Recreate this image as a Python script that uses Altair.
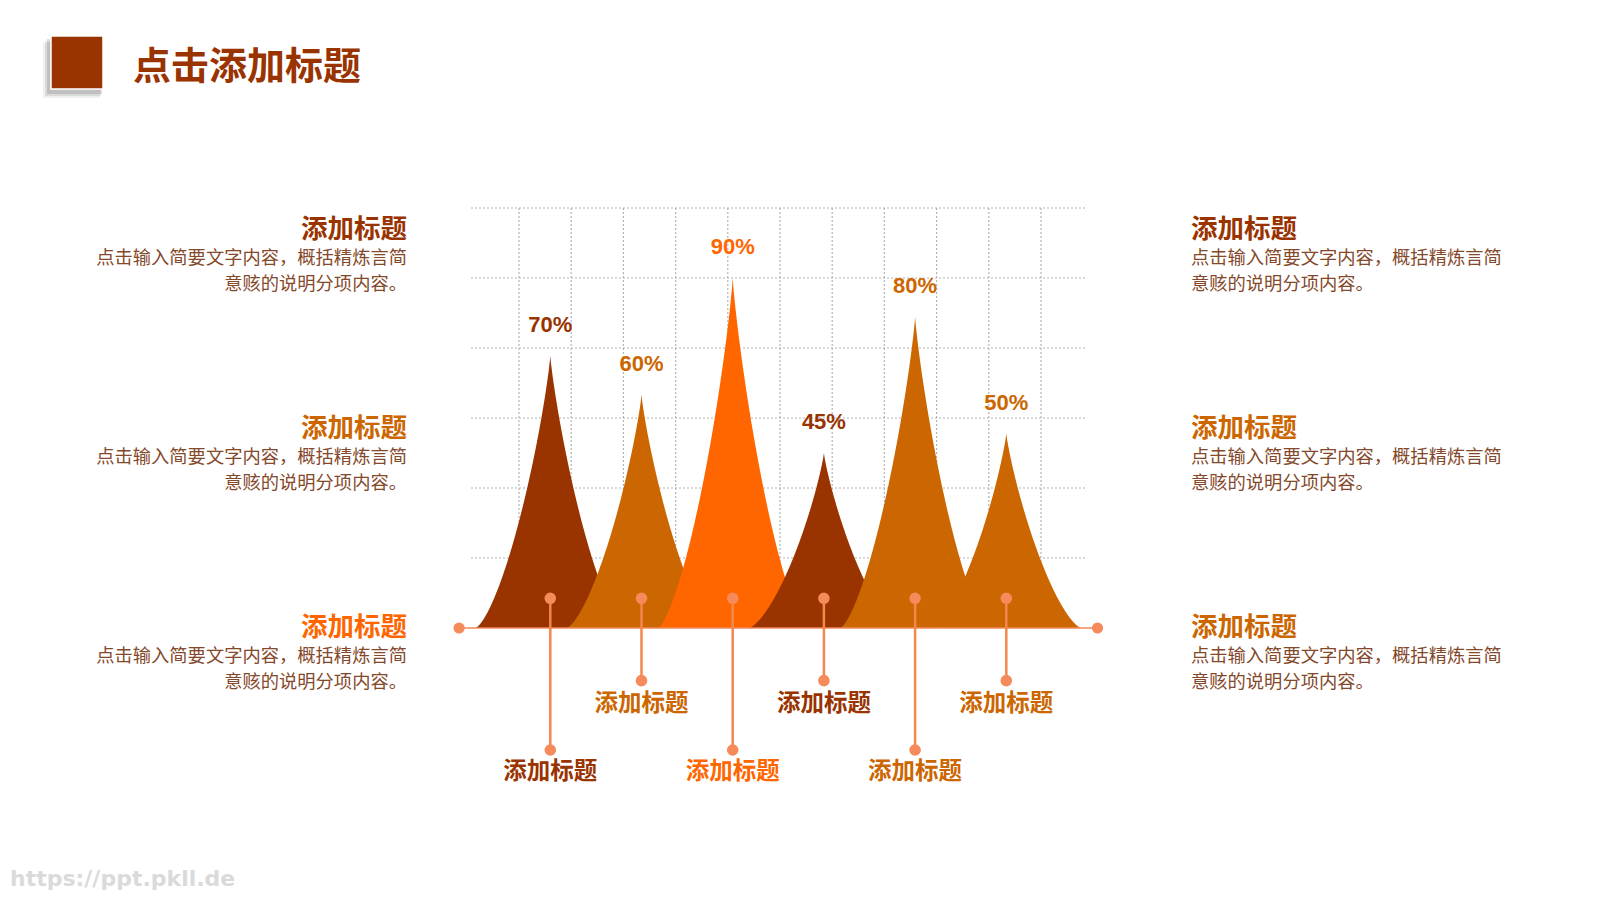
import altair as alt
import numpy as np
import pandas as pd

# ---------------- data ----------------
peak_index = [1, 2, 3, 4, 5, 6]
peak_values = [70, 60, 90, 45, 80, 50]
peak_labels = ["70%", "60%", "90%", "45%", "80%", "50%"]
peak_titles = ["添加标题", "添加标题", "添加标题", "添加标题", "添加标题", "添加标题"]
grid_rows = [18, 36, 54, 72, 90, 108]
grid_cols = [1, 2, 3, 4, 5, 6, 7, 8, 9, 10, 11]
baseline_ends = [0, 7]
main_title = "点击添加标题"
side_titles = ["添加标题", "添加标题", "添加标题"]
side_line1 = "点击输入简要文字内容，概括精炼言简"
side_line2 = "意赅的说明分项内容。"
watermark = "https://ppt.pkll.de"

# ---------------- styles ----------------
peak_colors = ["#993300", "#CC6600", "#FF6600", "#993300", "#CC6600", "#CC6600"]
left_title_colors = ["#993300", "#CC6600", "#FF6600"]
right_title_colors = ["#993300", "#CC6600", "#CC6600"]
body_color = "#84482A"
accent = "#F4874B"
CJK = "Noto Sans CJK SC"
LAT = "Liberation Sans"

W, H = 614, 420  # plot area = grid area
OX, OY = 471, 208  # page position of plot area

xs = alt.Scale(domain=[1, 6], range=[79.3, 535.3])
ys = alt.Scale(domain=[0, 108])


def px(x):
    return x - OX


def py(y):
    return y - OY


# ---------------- grid ----------------
grid_style = dict(color="#B4B4B4", strokeDash=[2, 2], strokeWidth=1.2)
vgrid = alt.Chart(pd.DataFrame({"gx": grid_cols})).mark_rule(**grid_style).encode(
    x=alt.X("gx:Q", scale=alt.Scale(domain=[0.0805, 11.843]), axis=None),
    y=alt.value(0),
    y2=alt.value(H),
)

hgrid = alt.Chart(pd.DataFrame({"gy": grid_rows})).mark_rule(**grid_style).encode(
    y=alt.Y("gy:Q", scale=ys, axis=None),
    x=alt.value(0),
    x2=alt.value(W),
)

# ---------------- peaks ----------------
s = np.linspace(-1, 1, 301)
profile = (1 - np.abs(s) ** 0.85) ** 1.45
half = 0.822

peak_layers = []
for i, v, c in zip(peak_index, peak_values, peak_colors):
    df = pd.DataFrame({"x": i + half * s, "y": v * profile})
    peak_layers.append(
        alt.Chart(df).mark_area(color=c, interpolate="linear", orient="vertical", opacity=1).encode(
            x=alt.X("x:Q", scale=xs, axis=None),
            y=alt.Y("y:Q", scale=ys, axis=None),
        )
    )

# ---------------- baseline ----------------
base_df = pd.DataFrame({"x": baseline_ends, "y": [0, 0]})
baseline = alt.Chart(base_df).mark_line(color="#F08A5B", strokeWidth=1.6).encode(
    x=alt.X("x:Q", scale=xs, axis=None), y=alt.Y("y:Q", scale=ys, axis=None)
)
base_dots = alt.Chart(base_df).mark_circle(size=125, color="#F58A5A", opacity=1).encode(
    x=alt.X("x:Q", scale=xs, axis=None), y=alt.Y("y:Q", scale=ys, axis=None)
)

# ---------------- stems, labels ----------------
peaks_df = pd.DataFrame(
    {"i": peak_index, "v": peak_values, "lab": peak_labels, "title": peak_titles}
)
pcolor = alt.Color("i:O", scale=alt.Scale(domain=peak_index, range=peak_colors), legend=None)
X = alt.X("i:Q", scale=xs, axis=None)
base = alt.Chart(peaks_df)

top_y = py(598.3)
stem_layers = []
for filt, end_y, lab_y in [
    ("datum.i % 2 == 1", py(750.0), py(771.5)),
    ("datum.i % 2 == 0", py(680.6), py(704.0)),
]:
    b = base.transform_filter(filt)
    stem_layers += [
        b.mark_rule(color=accent, strokeWidth=2.5).encode(x=X, y=alt.value(top_y), y2=alt.value(end_y)),
        b.mark_circle(size=135, color="#F58A5A", opacity=1).encode(x=X, y=alt.value(top_y)),
        b.mark_circle(size=135, color="#F58A5A", opacity=1).encode(x=X, y=alt.value(end_y)),
        b.mark_text(font=CJK, fontSize=23.5, fontWeight="bold", baseline="middle", align="center").encode(
            x=X, y=alt.value(lab_y), text="title:N", color=pcolor
        ),
    ]

value_text = base.mark_text(
    font=LAT, fontSize=22, fontWeight="bold", baseline="middle", align="center", dy=-31
).encode(x=X, y=alt.Y("v:Q", scale=ys, axis=None), text="lab:N", color=pcolor)

# ---------------- side text blocks ----------------
side_layers = []
title_ys = [229.6, 428.5, 627.5]
for k, ty in enumerate(title_ys):
    for xpos, align, colors in [(407, "right", left_title_colors), (1191, "left", right_title_colors)]:
        side_layers.append(
            alt.Chart(pd.DataFrame({"t": [side_titles[k]]})).mark_text(
                font=CJK, fontSize=26.5, fontWeight="bold", align=align, baseline="middle", color=colors[k]
            ).encode(x=alt.value(px(xpos)), y=alt.value(py(ty)), text="t:N")
        )
        for line, dyy in [(side_line1, 29.4), (side_line2, 55.1)]:
            side_layers.append(
                alt.Chart(pd.DataFrame({"t": [line]})).mark_text(
                    font=CJK, fontSize=18.3, align=align, baseline="middle", color=body_color
                ).encode(x=alt.value(px(xpos)), y=alt.value(py(ty + dyy)), text="t:N")
            )

# ---------------- header ----------------
one = pd.DataFrame({"t": [main_title]})
header = []
for (x0, y0, x1, y1, op) in [(43, 43, 100, 98, 0.06), (45, 41, 101, 96, 0.09), (47, 39, 102, 94, 0.12)]:
    header.append(
        alt.Chart(one).mark_rect(color="#000000", opacity=op).encode(
            x=alt.value(px(x0)), x2=alt.value(px(x1)), y=alt.value(py(y0)), y2=alt.value(py(y1))
        )
    )
header.append(
    alt.Chart(one).mark_rect(color="#993300", stroke="#FFFFFF", strokeWidth=1.5).encode(
        x=alt.value(px(51)), x2=alt.value(px(103)), y=alt.value(py(36)), y2=alt.value(py(89))
    )
)
header.append(
    alt.Chart(one).mark_text(
        font=CJK, fontSize=38, fontWeight="bold", align="left", baseline="middle", color="#993300"
    ).encode(x=alt.value(px(133)), y=alt.value(py(68)), text="t:N")
)
header.append(
    alt.Chart(pd.DataFrame({"t": [watermark]})).mark_text(
        font="DejaVu Sans", fontSize=22, fontWeight="bold", align="left", baseline="middle", color="#DADADA"
    ).encode(x=alt.value(px(10)), y=alt.value(py(879)), text="t:N")
)

inner = alt.layer(
    hgrid, *peak_layers, baseline, base_dots, *stem_layers, value_text, *side_layers, *header
)

chart = (
    alt.layer(vgrid, inner)
    .resolve_scale(x="independent")
    .properties(
        width=W,
        height=H,
        autosize=alt.AutoSizeParams(type="none"),
        padding={"left": 463, "top": 200, "right": 507, "bottom": 264},
        background="#FFFFFF",
    )
    .configure_view(stroke=None)
)

chart.save("out.html", embed_options={"renderer": "svg", "actions": False})
